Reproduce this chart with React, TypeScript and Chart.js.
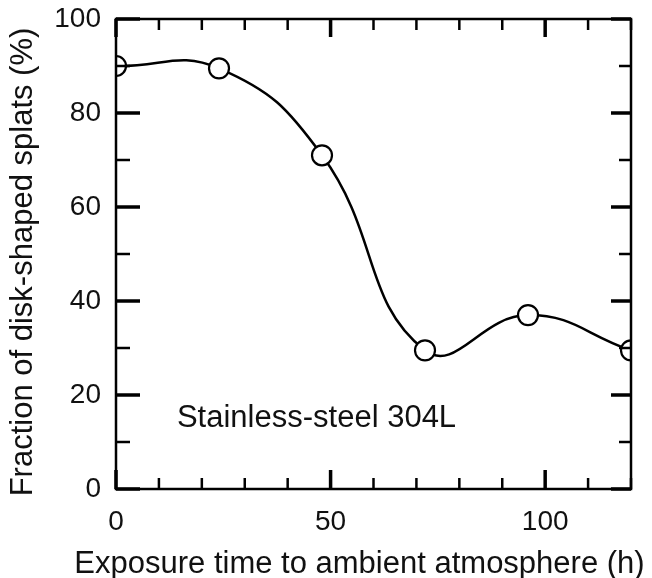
import { useEffect, useRef } from "react";
import { Chart, registerables } from "chart.js";

Chart.register(...registerables);

// Exposure time (h) and fraction of disk-shaped splats (%)
const exposureHours = [0, 24, 48, 72, 96, 120];
const diskFraction = [90, 89.5, 71, 29.5, 37, 29.5];

// Axis ranges, labelled ticks and minor tick spacing
const xMin = 0;
const xMax = 120;
const xTickLabels = [0, 50, 100];
const xMinorStep = 10;
const yMin = 0;
const yMax = 100;
const yTickLabels = [0, 20, 40, 60, 80, 100];
const yMinorStep = 10;

const xTitle = "Exposure time to ambient atmosphere (h)";
const yTitle = "Fraction of disk-shaped splats (%)";
const sampleLabel = "Stainless-steel 304L";
const sampleLabelAt = { x: 14.2, y: 13.2 };

const FONT = "'Liberation Sans', Arial, Helvetica, sans-serif";
const INK = "#000";
const TEXT = "#111";

// Frame with inward ticks on all four sides, axis titles and the sample label.
const framePlugin = {
  id: "frameTicks",
  afterDatasetsDraw(chart: any) {
    const { ctx, chartArea } = chart;
    const { left, right, top, bottom } = chartArea;
    const xs = chart.scales.x;
    const ys = chart.scales.y;
    ctx.save();
    ctx.strokeStyle = INK;
    ctx.lineCap = "butt";

    const seg = (x1: number, y1: number, x2: number, y2: number) => {
      ctx.beginPath();
      ctx.moveTo(x1, y1);
      ctx.lineTo(x2, y2);
      ctx.stroke();
    };

    for (let v = xMin; v <= xMax; v += xMinorStep) {
      const px = xs.getPixelForValue(v);
      const major = xTickLabels.includes(v);
      ctx.lineWidth = major ? 3.5 : 2.5;
      seg(px, bottom, px, bottom - (major ? 19 : 11));
      seg(px, top, px, top + (major ? 18 : 11));
    }
    for (let v = yMin; v <= yMax; v += yMinorStep) {
      const py = ys.getPixelForValue(v);
      const major = yTickLabels.includes(v);
      ctx.lineWidth = major ? 3.5 : 2.5;
      seg(left, py, left + (major ? 24 : 14), py);
      seg(right, py, right - (major ? 20 : 12), py);
    }

    ctx.lineWidth = 2.5;
    ctx.strokeRect(left, top, right - left, bottom - top);

    ctx.fillStyle = TEXT;
    ctx.font = `31px ${FONT}`;
    ctx.textAlign = "left";
    ctx.textBaseline = "alphabetic";
    ctx.fillText(
      sampleLabel,
      xs.getPixelForValue(sampleLabelAt.x),
      ys.getPixelForValue(sampleLabelAt.y)
    );

    // axis titles
    ctx.textAlign = "center";
    ctx.fillText(xTitle, (left + right) / 2 - 14, 573);
    ctx.translate(32, (top + bottom) / 2 + 8);
    ctx.rotate(-Math.PI / 2);
    ctx.fillText(yTitle, 0, 0);
    ctx.restore();
  },
};

function SplatChart() {
  const canvasRef = useRef<HTMLCanvasElement | null>(null);

  useEffect(() => {
    const canvas = canvasRef.current;
    if (!canvas) return;
    const chart = new Chart(canvas, {
      type: "line",
      data: {
        datasets: [
          {
            data: exposureHours.map((h, i) => ({ x: h, y: diskFraction[i] })),
            borderColor: INK,
            borderWidth: 2.5,
            tension: 0.45,
            fill: false,
            pointRadius: 10,
            pointBorderWidth: 2.2,
            pointBackgroundColor: "#fff",
            pointBorderColor: INK,
          },
        ],
      },
      options: {
        responsive: false,
        animation: false,
        devicePixelRatio: 1,
        layout: { padding: { top: 19, right: 21, bottom: 0, left: 0 } },
        plugins: {
          legend: { display: false },
          tooltip: { enabled: false },
        },
        scales: {
          x: {
            type: "linear",
            min: xMin,
            max: xMax,
            grid: { display: false, drawTicks: false },
            border: { display: false },
            ticks: {
              color: TEXT,
              padding: 16,
              maxRotation: 0,
              font: { family: FONT, size: 28 },
            },
            afterBuildTicks(scale: any) {
              scale.ticks = xTickLabels.map((value) => ({ value }));
            },
            afterFit(scale: any) {
              scale.height = 89;
              scale.paddingLeft = 0;
              scale.paddingRight = 0;
            },
          },
          y: {
            type: "linear",
            min: yMin,
            max: yMax,
            grid: { display: false, drawTicks: false },
            border: { display: false },
            ticks: {
              color: TEXT,
              padding: 15,
              font: { family: FONT, size: 28 },
            },
            afterBuildTicks(scale: any) {
              scale.ticks = yTickLabels.map((value) => ({ value }));
            },
            afterFit(scale: any) {
              scale.width = 116;
              scale.paddingTop = 0;
              scale.paddingBottom = 0;
            },
          },
        },
      },
      plugins: [framePlugin],
    });
    return () => chart.destroy();
  }, []);

  return <canvas ref={canvasRef} width={652} height={578} style={{ width: 652, height: 578, display: "block" }} />;
}

export default function App() {
  return (
    <div style={{ position: "fixed", left: 0, top: 0, width: 652, height: 578, background: "#fff" }}>
      <SplatChart />
    </div>
  );
}
